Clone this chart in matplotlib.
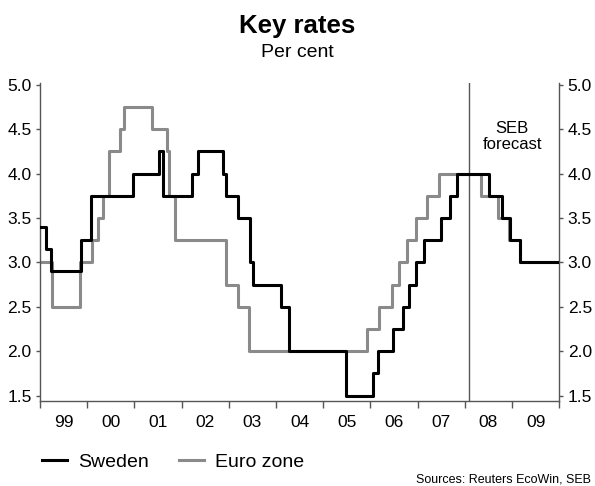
import matplotlib
matplotlib.use("Agg")
import matplotlib.pyplot as plt
import numpy as np

plt.rcParams['font.family'] = ['Liberation Sans', 'DejaVu Sans']

# Key rate change dates (decimal years) and rates after each change
sweden_dates = [1999.00, 1999.12, 1999.23, 1999.87, 2000.09, 2000.96, 2001.52, 2001.61,
                2002.21, 2002.34, 2002.87, 2002.95, 2003.20, 2003.45, 2003.52, 2004.11,
                2004.27, 2005.48, 2006.06, 2006.17, 2006.47, 2006.68, 2006.82, 2006.97,
                2007.14, 2007.50, 2007.69, 2007.83, 2008.51, 2008.78, 2008.96, 2009.17, 2010.00]
sweden_rates = [3.40, 3.15, 2.90, 3.25, 3.75, 4.00, 4.25, 3.75,
                4.00, 4.25, 4.00, 3.75, 3.50, 3.00, 2.75, 2.50,
                2.00, 1.50, 1.75, 2.00, 2.25, 2.50, 2.75, 3.00,
                3.25, 3.50, 3.75, 4.00, 3.75, 3.50, 3.25, 3.00, 3.00]

euro_dates = [1999.00, 1999.26, 1999.85, 2000.11, 2000.22, 2000.34, 2000.47, 2000.69,
              2000.78, 2001.38, 2001.68, 2001.73, 2001.87, 2002.95, 2003.19, 2003.42,
              2005.93, 2006.18, 2006.45, 2006.61, 2006.77, 2006.96, 2007.19, 2007.45,
              2008.34, 2008.70, 2008.94, 2009.17, 2010.00]
euro_rates = [3.00, 2.50, 3.00, 3.25, 3.50, 3.75, 4.25, 4.50,
              4.75, 4.50, 4.25, 3.75, 3.25, 2.75, 2.50, 2.00,
              2.25, 2.50, 2.75, 3.00, 3.25, 3.50, 3.75, 4.00,
              3.75, 3.50, 3.25, 3.00, 3.00]

year_labels = ["99", "00", "01", "02", "03", "04", "05", "06", "07", "08", "09"]
forecast_start = 2008.09
y_ticks = [1.5, 2.0, 2.5, 3.0, 3.5, 4.0, 4.5, 5.0]

fig = plt.figure(figsize=(5.95, 4.86), dpi=100)
ax = fig.add_axes([0.0672, 0.1749, 0.8728, 0.6541])

ax.step(euro_dates, euro_rates, where='post', color='#8a8a8a', lw=2.2, label='Euro zone', zorder=2)
ax.step(sweden_dates, sweden_rates, where='post', color='black', lw=2.2, label='Sweden', zorder=3)
ax.axvline(forecast_start, color='#555555', lw=1.0, zorder=1)

ax.set_xlim(1999, 2010)
ax.set_ylim(1.44, 5.02)

# Year boundaries as ticks, labels centred in each year
years = np.arange(1999, 2011)
ax.set_xticks(years)
ax.set_xticklabels([])
ax.set_xticks(years[:-1] + 0.5, minor=True)
ax.set_xticklabels(year_labels, minor=True)
ax.tick_params(axis='x', which='major', length=5, width=1, color='#555555', direction='out')
ax.tick_params(axis='x', which='minor', length=0, pad=10, labelsize=12.5)

ax.set_yticks(y_ticks)
ax.set_yticklabels([f"{v:.1f}" for v in y_ticks])
ax.tick_params(axis='y', which='major', length=3, width=1, color='#555555', direction='out',
               left=True, right=True, labelleft=True, labelright=True, labelsize=12.5, pad=3)

for side in ['left', 'right', 'bottom']:
    ax.spines[side].set_color('#555555')
    ax.spines[side].set_linewidth(1.0)
ax.spines['top'].set_visible(False)

ax.text(2009.0, 4.42, "SEB\nforecast", ha='center', va='center', fontsize=12, linespacing=1.05)

fig.text(0.5, 0.9327, "Key rates", ha='center', va='baseline', fontsize=18.5, fontweight='bold')
fig.text(0.5, 0.8833, "Per cent", ha='center', va='baseline', fontsize=14)

handles, labels = ax.get_legend_handles_labels()
order = [1, 0]
fig.legend([handles[i] for i in order], [labels[i] for i in order],
           loc='center left', bbox_to_anchor=(0.070, 0.049), ncol=2, frameon=False,
           fontsize=14, handlelength=1.29, handletextpad=0.57, columnspacing=1.58,
           borderpad=0, borderaxespad=0)

fig.text(0.993, 0.0068, "Sources: Reuters EcoWin, SEB", ha='right', va='baseline', fontsize=9)

fig.savefig("out.png", dpi=100)
